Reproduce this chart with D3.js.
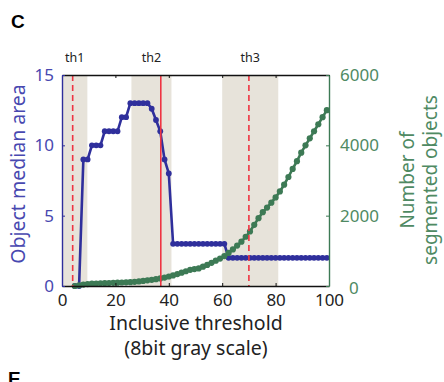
<!DOCTYPE html>
<html>
<head>
<meta charset="utf-8">
<script src="https://cdn.jsdelivr.net/npm/d3@7"></script>
<style>
  body { margin: 0; background: #fff; }
  svg { display: block; font-family: "Noto Sans", sans-serif; }
</style>
</head>
<body>
<div id="chart"></div>
<script>
// thresholds (percent of 8bit gray scale)
const thresholds = [4.8, 6.4, 8, 9.6, 11.2, 12.8, 14.4, 16, 17.6, 19.2, 20.8, 22.4, 24, 25.6, 27.2, 28.8,
  30.4, 32, 33.6, 35.2, 36.8, 38.4, 40, 41.6, 43.2, 44.8, 46.4, 48, 49.6, 51.2, 52.8, 54.4, 56, 57.6,
  59.2, 60.8, 62.4, 64, 65.6, 67.2, 68.8, 70.4, 72, 73.6, 75.2, 76.8, 78.4, 80, 81.6, 83.2, 84.8, 86.4,
  88, 89.6, 91.2, 92.8, 94.4, 96, 97.6, 99.2];

// object median area (left axis)
const medianArea = [0, 0, 9, 9, 10, 10, 10, 11, 11, 11, 11, 12, 12, 13, 13, 13,
  13, 13, 12.6, 11.8, 11, 9, 8, 3, 3, 3, 3, 3, 3, 3, 3, 3, 3, 3,
  3, 3, 2, 2, 2, 2, 2, 2, 2, 2, 2, 2, 2, 2, 2, 2, 2, 2,
  2, 2, 2, 2, 2, 2, 2, 2];

// number of segmented objects (right axis)
const objectCount = [0, 20, 40, 55, 65, 70, 75, 80, 85, 90, 95, 100, 105, 110, 120, 130,
  145, 160, 175, 195, 215, 240, 270, 300, 340, 380, 420, 460, 480, 500, 550, 600, 660, 720,
  780, 850, 940, 1040, 1150, 1260, 1400, 1550, 1740, 1930, 2100, 2230, 2370, 2520, 2690, 2880, 3100, 3330,
  3550, 3790, 4000, 4200, 4400, 4600, 4800, 5000];

const bands = [[0, 9.5], [26, 41], [60, 81]];
const bandLabels = ['th1', 'th2', 'th3'];
const thLines = [4, 37, 70];
const thDashed = [true, false, true];

const xTicks = [0, 20, 40, 60, 80, 100];
const leftTicks = [0, 5, 10, 15];
const rightTicks = [0, 2000, 4000, 6000];

const W = 444, H = 382;
const blue = '#2f2f9c', blueText = '#4848b0';
const green = '#3d7a55', greenText = '#4f8a63';
const red = '#ef3442';
const font = '"Noto Sans", sans-serif';

const svg = d3.select('#chart').append('svg').attr('width', W).attr('height', H);

const x = d3.scaleLinear().domain([0, 100]).range([62, 329]);
const yL = d3.scaleLinear().domain([0, 15]).range([286, 75]);
const yR = d3.scaleLinear().domain([0, 6000]).range([286, 75]);

// shaded threshold bands
svg.append('g').selectAll('rect').data(bands).join('rect')
  .attr('x', d => x(d[0])).attr('width', d => x(d[1]) - x(d[0]))
  .attr('y', yL(15)).attr('height', yL(0) - yL(15))
  .attr('fill', '#e7e3da');

svg.append('g').selectAll('text').data(bands).join('text')
  .attr('x', d => x((d[0] + d[1]) / 2)).attr('y', 62)
  .attr('text-anchor', 'middle').attr('font-size', 12.5).attr('fill', '#222')
  .text((d, i) => bandLabels[i]);

// series
const pts = thresholds.map((t, i) => ({ t, a: medianArea[i], n: objectCount[i] }));

const gBlue = svg.append('g');
gBlue.append('path').datum(pts)
  .attr('fill', 'none').attr('stroke', blue).attr('stroke-width', 2.6)
  .attr('d', d3.line().x(d => x(d.t)).y(d => yL(d.a)));
gBlue.selectAll('circle').data(pts).join('circle')
  .attr('cx', d => x(d.t)).attr('cy', d => yL(d.a)).attr('r', 2.9).attr('fill', blue);

const gGreen = svg.append('g');
gGreen.append('path').datum(pts)
  .attr('fill', 'none').attr('stroke', green).attr('stroke-width', 2.6)
  .attr('d', d3.line().x(d => x(d.t)).y(d => yR(d.n)));
gGreen.selectAll('circle').data(pts).join('circle')
  .attr('cx', d => x(d.t)).attr('cy', d => yR(d.n)).attr('r', 3.1).attr('fill', green);

// threshold lines
svg.append('g').selectAll('line').data(thLines).join('line')
  .attr('x1', d => x(d)).attr('x2', d => x(d))
  .attr('y1', yL(15)).attr('y2', yL(0))
  .attr('stroke', red).attr('stroke-width', 1.6)
  .attr('stroke-dasharray', (d, i) => thDashed[i] ? '6,4' : null);

// axes
const gx = svg.append('g').attr('transform', `translate(0,${yL(0)})`)
  .call(d3.axisBottom(x).tickValues(xTicks).tickSizeInner(-3).tickSizeOuter(0).tickPadding(8));
const gt = svg.append('g').attr('transform', `translate(0,${yL(15)})`)
  .call(d3.axisTop(x).tickValues(xTicks).tickSizeInner(-3).tickSizeOuter(0).tickFormat(''));
const gl = svg.append('g').attr('transform', `translate(${x(0)},0)`)
  .call(d3.axisLeft(yL).tickValues(leftTicks).tickSizeInner(-3).tickSizeOuter(0).tickPadding(8));
const gr = svg.append('g').attr('transform', `translate(${x(100)},0)`)
  .call(d3.axisRight(yR).tickValues(rightTicks).tickFormat(d3.format('d'))
    .tickSizeInner(-3).tickSizeOuter(0).tickPadding(11));

[gx, gt].forEach(g => {
  g.select('.domain').attr('stroke', '#111').attr('stroke-width', 1.6);
  g.selectAll('.tick line').attr('stroke', '#111');
  g.selectAll('text').attr('fill', '#222').attr('font-size', 17).attr('font-family', font);
});
gl.select('.domain').attr('stroke', blue).attr('stroke-width', 1.4);
gl.selectAll('.tick line').attr('stroke', blue);
gl.selectAll('text').attr('fill', blueText).attr('font-size', 17).attr('font-family', font);
gr.select('.domain').attr('stroke', green).attr('stroke-width', 1.4);
gr.selectAll('.tick line').attr('stroke', green);
gr.selectAll('text').attr('fill', greenText).attr('font-size', 17).attr('font-family', font);
// the zero label on the right sits clear of "100"
gr.selectAll('.tick').filter(d => d === 0).select('text').attr('x', 20).attr('dy', '0.45em');

// axis titles
svg.append('text').attr('transform', 'translate(25,174) rotate(-90)')
  .attr('text-anchor', 'middle').attr('font-size', 19.5).attr('fill', blueText)
  .text('Object median area');
svg.append('text').attr('transform', 'translate(414,180) rotate(-90)')
  .attr('text-anchor', 'middle').attr('font-size', 19).attr('fill', greenText)
  .text('Number of');
svg.append('text').attr('transform', 'translate(437,180) rotate(-90)')
  .attr('text-anchor', 'middle').attr('font-size', 19).attr('fill', greenText)
  .text('segmented objects');
svg.append('text').attr('x', 196).attr('y', 330)
  .attr('text-anchor', 'middle').attr('font-size', 19.5).attr('fill', '#222')
  .text('Inclusive threshold');
svg.append('text').attr('x', 196).attr('y', 355)
  .attr('text-anchor', 'middle').attr('font-size', 19.5).attr('fill', '#222')
  .text('(8bit gray scale)');

// panel letters
svg.append('text').attr('x', 11).attr('y', 28)
  .attr('font-family', '"Liberation Sans", Arial, sans-serif').attr('font-weight', 'bold')
  .attr('font-size', 19).attr('fill', '#000').text('C');
svg.append('text').attr('x', 8).attr('y', 385)
  .attr('font-family', '"Liberation Sans", Arial, sans-serif').attr('font-weight', 'bold')
  .attr('font-size', 19).attr('fill', '#000').text('E');
</script>
</body>
</html>
